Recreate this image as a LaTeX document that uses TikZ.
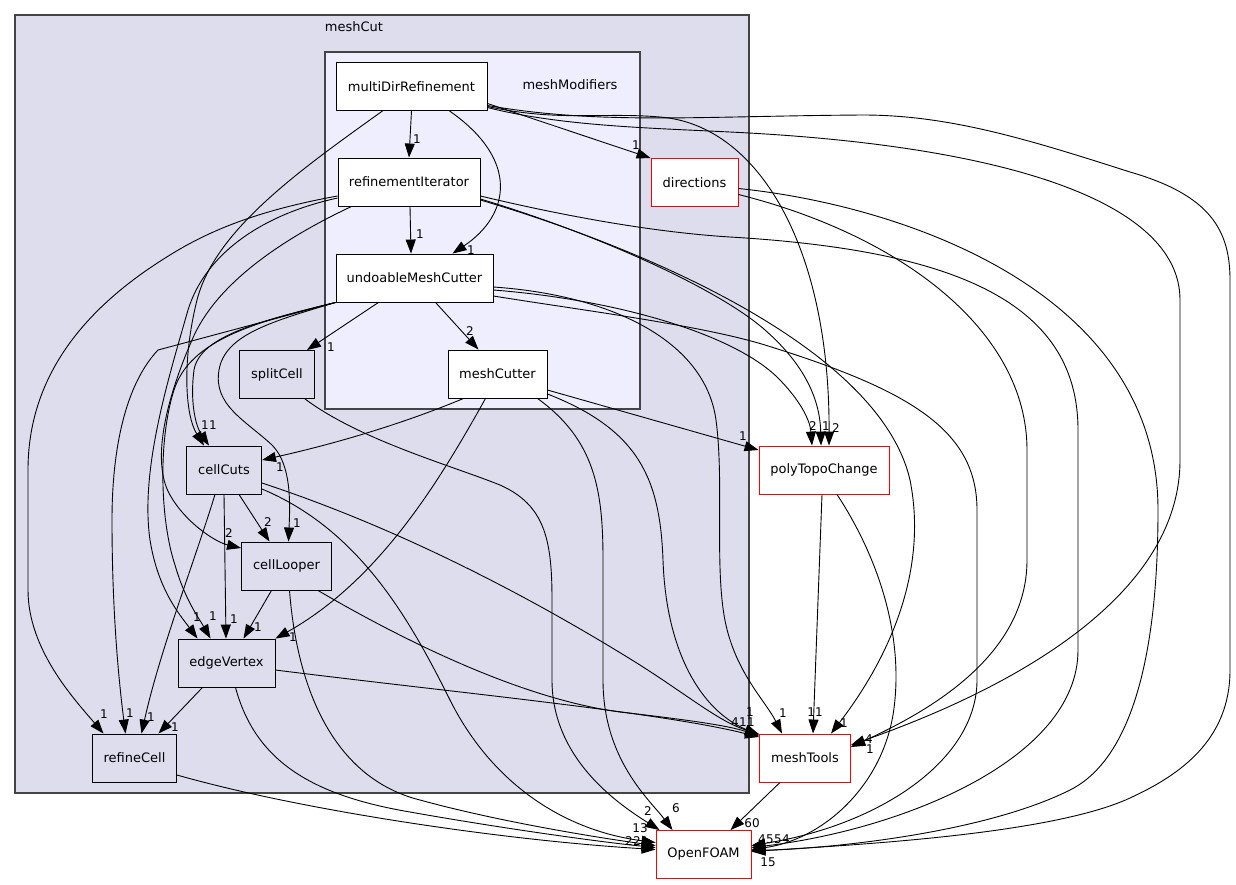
\documentclass[tikz,border=0pt]{standalone}
\usepackage{fontspec}
\setmainfont{DejaVu Sans}
\usetikzlibrary{arrows.meta,calc}
\definecolor{cutbg}{HTML}{DDDDEE}
\definecolor{modbg}{HTML}{EEEEFF}
\definecolor{frame}{HTML}{444444}
\tikzset{
  clus/.style  ={rectangle, draw=frame, line width=1.2pt, inner sep=0pt},
  ctitle/.style={font=\fontsize{13}{15}\selectfont, inner sep=0pt},
  dir/.style   ={rectangle, draw=black, fill=white, line width=0.9pt, minimum height=48pt,
                 inner sep=0pt, font=\fontsize{13}{15}\selectfont},
  sub/.style   ={dir, fill=cutbg},
  ext/.style   ={dir, draw=red},
  lbl/.style   ={font=\fontsize{12}{13}\selectfont, inner sep=0pt},
  ar/.style    ={-{Triangle[length=14pt,width=10pt]}, line width=0.9pt, draw=black},
}

\begin{document}
\begin{tikzpicture}[x=1pt,y=-1pt]
\useasboundingbox (0,0) rectangle (1236,884);
\node[clus, fill=cutbg, minimum width=734pt, minimum height=778pt] (cut) at (382,404) {};
\node[clus, fill=modbg, minimum width=315pt, minimum height=357pt] (mod) at (482.5,230.5) {};
\node[ctitle] (cuttitle) at (354,27) {meshCut};
\node[ctitle] (modtitle) at (570,85) {meshModifiers};

\node[dir, minimum width=151pt] (mdr)   at (411.5,86.5) {multiDirRefinement};
\node[dir, minimum width=142pt] (ri)    at (409,182)    {refinementIterator};
\node[dir, minimum width=157pt] (umc)   at (414.5,278)  {undoableMeshCutter};
\node[dir, minimum width=99pt]  (mcut)  at (497.5,374)  {meshCutter};
\node[sub, minimum width=75pt]  (split) at (277,374.5)  {splitCell};
\node[sub, minimum width=75pt]  (cc)    at (224,470)    {cellCuts};
\node[sub, minimum width=90pt]  (cl)    at (286.5,566)  {cellLooper};
\node[sub, minimum width=97pt]  (ev)    at (226.5,663)  {edgeVertex};
\node[sub, minimum width=84pt]  (rc)    at (134.5,758)  {refineCell};
\node[ext, minimum width=87pt]  (dirs)  at (694.5,182.5) {directions};
\node[ext, minimum width=130pt] (ptc)   at (824,470)    {polyTopoChange};
\node[ext, minimum width=91pt]  (mt)    at (805,758)    {meshTools};
\node[ext, minimum width=95pt]  (of)    at (703.5,854.5) {OpenFOAM};

% multiDirRefinement
\draw[ar] (mdr.south) -- (ri.north) node[lbl] at (417,139) {1};
\draw[ar] ($(mdr.south)+(38,0)$) .. controls (520,160) and (510,215) .. ($(umc.north)+(38,0)$) node[lbl] at (471,250) {1};
\draw[ar] ($(mdr.east)+(0,17)$) -- (dirs.north west) node[lbl] at (636,145) {1};
\draw[ar] ($(mdr.east)+(0,20)$) .. controls (560,122) and (600,112) .. (660,117)
  .. controls (760,125) and (830,250) .. ($(ptc.north)+(5,0)$) node[lbl] at (836,428) {2};
\draw[ar] ($(mdr.east)+(0,21)$) .. controls (560,126) and (650,128) .. (730,132)
  .. controls (1000,145) and (1180,200) .. (1180,300) -- (1180,460)
  .. controls (1180,620) and (950,710) .. ($(mt.east)+(0,-13)$) node[lbl] at (869,739) {4};
\draw[ar] ($(mdr.east)+(0,19)$) .. controls (600,125) and (700,116) .. (863,115)
  .. controls (950,115) and (1030,140) .. (1130,172) .. controls (1210,195) and (1230,230) .. (1230,280)
  -- (1230,670) .. controls (1230,740) and (1180,775) .. (1130,798)
  .. controls (1050,835) and (850,845) .. ($(of.east)+(0,-3)$) node[lbl] at (768,862) {15};
\draw[ar] ($(mdr.south)+(-29,0)$) .. controls (300,170) and (215,230) .. (197,300)
  .. controls (182,360) and (185,415) .. ($(cc.north)+(-20,0)$) node[lbl] at (205,425) {1};

% refinementIterator
\draw[ar] ($(ri.south)+(1,0)$) -- ($(umc.north)+(-3.5,0)$) node[lbl] at (420,234) {1};
\draw[ar] ($(ri.west)+(0,14)$) .. controls (260,210) and (210,230) .. (170,255)
  .. controls (80,310) and (28,380) .. (28,470) -- (28,590)
  .. controls (28,650) and (75,700) .. ($(rc.north)+(-31,0)$) node[lbl] at (104,714) {1};
\draw[ar] ($(ri.west)+(0,16)$) .. controls (260,215) and (205,255) .. (188,310)
  .. controls (168,380) and (140,470) .. (150,540)
  .. controls (158,590) and (180,615) .. ($(ev.north)+(-29,0)$) node[lbl] at (197,617) {1};
\draw[ar] ($(ri.south west)+(14,0)$) .. controls (280,240) and (215,285) .. (192,340)
  .. controls (168,395) and (150,460) .. (170,495)
  .. controls (185,522) and (215,542) .. ($(cl.west)+(0,-18)$) node[lbl] at (229,533) {2};
\draw[ar] ($(ri.east)+(0,17)$) .. controls (600,235) and (720,290) .. (765,330)
  .. controls (805,365) and (820,400) .. ($(ptc.north)+(-3,0)$) node[lbl] at (826,426) {1};
\draw[ar] ($(ri.east)+(0,18)$) .. controls (650,250) and (880,350) .. (910,480)
  .. controls (930,580) and (880,670) .. ($(mt.north)+(26,0)$) node[lbl] at (844,723) {1};
\draw[ar] ($(ri.east)+(0,14)$) .. controls (560,215) and (650,232) .. (730,237)
  .. controls (950,250) and (1078,300) .. (1078,430) -- (1078,650)
  .. controls (1078,760) and (900,830) .. ($(of.east)+(0,-7)$) node[lbl] at (762,839) {4};

% undoableMeshCutter
\draw[ar] ($(umc.south)+(-36,0)$) -- ($(split.north east)+(-8,0)$) node[lbl] at (331,347) {1};
\draw[ar] ($(umc.south)+(21,0)$) -- ($(mcut.north)+(-19,0)$) node[lbl] at (470,331) {2};
\draw[ar] (umc.south west) -- (158,350) .. controls (125,385) and (112,450) .. (112,520)
  .. controls (112,620) and (120,690) .. ($(rc.north)+(-9,0)$) node[lbl] at (130,713) {1};
\draw[ar] (umc.south west) .. controls (265,320) and (200,335) .. (194,370)
  .. controls (190,400) and (195,425) .. ($(cc.north)+(-15,0)$) node[lbl] at (213,425) {1};
\draw[ar] (umc.south west) .. controls (255,322) and (190,340) .. (174,390)
  .. controls (158,440) and (160,520) .. (175,565)
  .. controls (185,600) and (200,620) .. ($(ev.north)+(-16,0)$) node[lbl] at (213,616) {1};
\draw[ar] (umc.south west) .. controls (270,322) and (225,335) .. (219,370)
  .. controls (213,405) and (245,420) .. (272,445)
  .. controls (292,465) and (290,505) .. ($(cl.north)+(2,0)$) node[lbl] at (297,523) {1};
\draw[ar] ($(umc.east)+(0,12)$) .. controls (620,300) and (735,335) .. (778,378)
  .. controls (800,400) and (810,420) .. ($(ptc.north)+(-12,0)$) node[lbl] at (813,426) {2};
\draw[ar] ($(umc.east)+(0,9)$) .. controls (610,295) and (705,340) .. (716,420)
  .. controls (724,480) and (715,560) .. (724,615)
  .. controls (733,670) and (765,700) .. ($(mt.north)+(-23,0)$) node[lbl] at (783,713) {1};
\draw[ar] ($(umc.east)+(0,18)$) .. controls (580,310) and (700,325) .. (765,345)
  .. controls (910,390) and (977,430) .. (977,510) -- (977,680)
  .. controls (977,760) and (880,825) .. ($(of.east)+(0,-9)$) node[lbl] at (770,839) {5};

% meshCutter and splitCell
\draw[ar] ($(mcut.south)+(-34,0)$) .. controls (400,425) and (330,445) .. ($(cc.east)+(0,-10)$) node[lbl] at (280,467) {1};
\draw[ar] ($(mcut.south)+(-12,0)$) .. controls (440,480) and (380,580) .. (ev.north east) node[lbl] at (293,637) {1};
\draw[ar] ($(mcut.east)+(0,16)$) -- ($(ptc.west)+(0,-20)$) node[lbl] at (743,436) {1};
\draw[ar] ($(mcut.east)+(0,20)$) .. controls (640,430) and (660,480) .. (663,560)
  .. controls (666,650) and (700,710) .. ($(mt.west)+(0,-23)$) node[lbl] at (750,712) {1};
\draw[ar] ($(mcut.south)+(40,0)$) .. controls (595,440) and (603,490) .. (603,560) -- (603,680)
  .. controls (603,760) and (650,800) .. ($(of.north)+(-31,0)$) node[lbl] at (676,808) {6};
\draw[ar] ($(split.south)+(28,0)$) .. controls (360,440) and (450,465) .. (500,485)
  .. controls (545,505) and (552,540) .. (552,600) -- (552,680)
  .. controls (552,760) and (620,805) .. ($(of.north west)+(4,0)$) node[lbl] at (648,811) {2};

% cellCuts, cellLooper, edgeVertex, refineCell
\draw[ar] ($(cc.south)+(15,0)$) -- ($(cl.north)+(-17,0)$) node[lbl] at (268,522) {2};
\draw[ar] (cc.south) -- ($(ev.north)+(-0.5,0)$) node[lbl] at (234,619) {1};
\draw[ar] ($(cc.south)+(-9,0)$) .. controls (195,560) and (160,650) .. ($(rc.north)+(7,0)$) node[lbl] at (151,717) {1};
\draw[ar] ($(cc.east)+(0,13)$) .. controls (420,535) and (560,615) .. (640,665)
  .. controls (690,697) and (720,722) .. ($(mt.west)+(0,-24)$) node[lbl] at (735,722) {4};
\draw[ar] ($(cc.east)+(0,19)$) .. controls (360,530) and (410,620) .. (450,700)
  .. controls (490,780) and (560,830) .. ($(of.west)+(0,-12)$) node[lbl] at (640,828) {13};
\draw[ar] ($(cl.south)+(-15,0)$) -- ($(ev.north)+(17,0)$) node[lbl] at (258,627) {1};
\draw[ar] ($(cl.south east)+(-14,0)$) .. controls (420,650) and (530,700) .. (620,712)
  .. controls (690,720) and (730,726) .. ($(mt.west)+(0,-22)$) node[lbl] at (743,722) {1};
\draw[ar] ($(cl.south)+(3,0)$) .. controls (298,700) and (340,780) .. (420,800)
  .. controls (500,822) and (600,838) .. ($(of.west)+(0,-9)$) node[lbl] at (629,841) {2};
\draw[ar] ($(ev.south)+(-24,0)$) -- ($(rc.north)+(24,0)$) node[lbl] at (175,727) {1};
\draw[ar] ($(ev.east)+(0,7)$) .. controls (450,692) and (660,712) .. ($(mt.west)+(0,-21)$) node[lbl] at (751,722) {1};
\draw[ar] ($(ev.south)+(9,0)$) .. controls (255,760) and (310,795) .. (410,812)
  .. controls (500,828) and (600,842) .. ($(of.west)+(0,-7)$) node[lbl] at (637,841) {2};
\draw[ar] ($(rc.east)+(0,17)$) .. controls (300,810) and (500,840) .. ($(of.west)+(0,-5)$) node[lbl] at (645,841) {1};

% directions, polyTopoChange, meshTools
\draw[ar] ($(dirs.east)+(0,12)$) .. controls (900,235) and (1027,330) .. (1027,450) -- (1027,560)
  .. controls (1027,660) and (920,715) .. ($(mt.east)+(0,-11)$) node[lbl] at (870,749) {1};
\draw[ar] ($(dirs.east)+(0,6)$) .. controls (900,205) and (1158,290) .. (1158,510)
  .. controls (1158,660) and (1130,760) .. (1070,790)
  .. controls (980,835) and (820,849) .. ($(of.east)+(0,-4)$) node[lbl] at (778,839) {5};
\draw[ar] ($(ptc.south)+(-2,0)$) -- ($(mt.north)+(8,0)$) node[lbl] at (815,712) {11};
\draw[ar] ($(ptc.south)+(13,0)$) .. controls (880,560) and (905,640) .. (893,715)
  .. controls (880,790) and (820,840) .. ($(of.east)+(0,-5)$) node[lbl] at (786,839) {4};
\draw[ar] ($(mt.south)+(-25,0)$) -- ($(of.north)+(27,0)$) node[lbl] at (752,823) {60};
\end{tikzpicture}
\end{document}
